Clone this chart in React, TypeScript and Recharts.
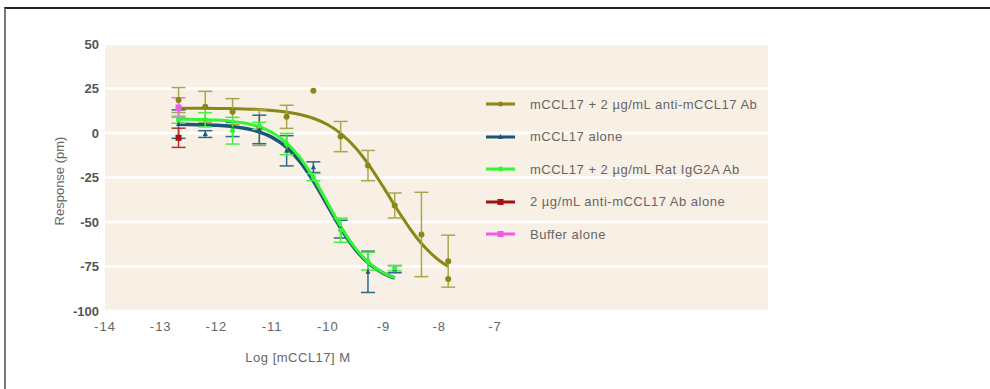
import React from 'react';
import { ComposedChart, Line, Scatter, XAxis, YAxis, CartesianGrid, ErrorBar, Legend } from 'recharts';

const FONT = '"Liberation Sans", Arial, sans-serif';

// log concentrations used in the assay
const logConc = [-12.68, -12.2, -11.71, -11.23, -10.74, -10.26, -9.77, -9.28, -8.8, -8.32, -7.84];

// mCCL17 + 2 µg/mL anti-mCCL17 Ab
const oliveMean = [18.5, 14.7, 12, 3, 9.1, 23.8, -2, -18.3, -40.7, -57, -72];
const oliveErr = [7, 8.7, 7.3, 10, 6.5, 0, 8.5, 8.5, 7, 23.7, 14.6];
const oliveExtraX = [-7.84];
const oliveExtraY = [-82];
// mCCL17 alone
const navyMean = [5, -0.6, 2, 2, -10, -19.2, -54, -78, -76.5];
const navyErr = [8, 1.9, 4, 8, 8.5, 3, 5, 11.6, 2];
// mCCL17 + 2 µg/mL Rat IgG2A Ab
const greenMean = [7.5, 7.4, 1.3, 4, -6.2, -24.8, -54.6, -72, -76];
const greenErr = [2, 4, 7.5, 2, 6, 2, 6.8, 5, 1.5];
// 2 µg/mL anti-mCCL17 Ab alone
const redMean = [-2.7];
const redErr = [5.4];
// Buffer alone
const pinkMean = [14.3];
const pinkErr = [5.5];

// fitted curves
const oliveCurveX = [-12.68, -12.25, -12, -11.75, -11.5, -11.25, -11, -10.75, -10.5, -10.25, -10, -9.75, -9.5, -9.25, -9, -8.75, -8.5, -8.25, -8, -7.84];
const oliveCurveY = [13.96, 13.9, 13.83, 13.72, 13.53, 13.21, 12.69, 11.83, 10.42, 8.16, 4.62, -0.77, -8.43, -18.56, -30.57, -43.23, -54.91, -64.5, -71.62, -74.99];
const fitX = [-12.68, -12.5, -12.25, -12, -11.75, -11.5, -11.25, -11, -10.75, -10.5, -10.25, -10, -9.75, -9.5, -9.25, -9, -8.8];
const navyCurveY = [4.87, 4.79, 4.62, 4.3, 3.72, 2.66, 0.79, -2.46, -7.82, -16.16, -27.55, -41.06, -54.49, -65.64, -73.69, -78.87, -81.49];
const greenCurveY = [7.86, 7.78, 7.6, 7.27, 6.67, 5.58, 3.65, 0.29, -5.24, -13.86, -25.63, -39.58, -53.45, -64.97, -73.29, -78.63, -81.34];

const xTicks = [-14, -13, -12, -11, -10, -9, -8, -7];
const yTicks = [-100, -75, -50, -25, 0, 25, 50];

const seriesNames = [
  'mCCL17 + 2 \u00b5g/mL anti-mCCL17 Ab',
  'mCCL17 alone',
  'mCCL17 + 2 \u00b5g/mL Rat IgG2A Ab',
  '2 \u00b5g/mL anti-mCCL17 Ab alone',
  'Buffer alone',
];
const seriesColors = ['#8a8719', '#1c5676', '#33f533', '#a31212', '#f05ae6'];
const barColors = ['#aaa650', '#2a6a8c', '#44f044', '#b03030', '#f070e8'];
const markerKinds = ['circle', 'triangle', 'circle', 'square', 'square'];

const pts = (xs: number[], ys: number[], es?: number[]) =>
  ys.map((y, i) => ({ x: xs[i], y, err: es ? es[i] : 0 }));

const oliveData = pts(logConc, oliveMean, oliveErr);
const oliveExtra = pts(oliveExtraX, oliveExtraY);
const navyData = pts(logConc, navyMean, navyErr);
const greenData = pts(logConc, greenMean, greenErr);
const redData = pts(logConc, redMean, redErr);
const pinkData = pts(logConc, pinkMean, pinkErr);
const oliveCurve = pts(oliveCurveX, oliveCurveY);
const navyCurve = pts(fitX, navyCurveY);
const greenCurve = pts(fitX, greenCurveY);

function Marker({ kind, cx, cy, color, s }: { kind: string; cx: number; cy: number; color: string; s: number }) {
  if (kind === 'square') return <rect x={cx - s} y={cy - s} width={2 * s} height={2 * s} fill={color} />;
  if (kind === 'triangle')
    return <polygon points={`${cx},${cy - s - 0.5} ${cx - s},${cy + s - 0.5} ${cx + s},${cy + s - 0.5}`} fill={color} />;
  return <circle cx={cx} cy={cy} r={s} fill={color} />;
}

const makeShape = (i: number, s: number) => (props: any) =>
  props.cx == null ? <g /> : <Marker kind={markerKinds[i]} cx={props.cx} cy={props.cy} color={seriesColors[i]} s={s} />;

function LegendContent() {
  return (
    <div style={{ fontFamily: FONT, fontSize: 13, color: '#666', letterSpacing: 0.5 }}>
      {seriesNames.map((n, i) => (
        <div key={n} style={{ height: 32.5, display: 'flex', alignItems: 'center' }}>
          <svg width={44} height={10} style={{ flex: 'none' }}>
            <line x1={0} y1={5} x2={29} y2={5} stroke={seriesColors[i]} strokeWidth={3} />
            <Marker kind={markerKinds[i]} cx={14.5} cy={5} color={seriesColors[i]} s={markerKinds[i] === 'square' ? 3 : 2.5} />
          </svg>
          <span style={{ whiteSpace: 'nowrap' }}>{n}</span>
        </div>
      ))}
    </div>
  );
}

export default function App() {
  return (
    <div style={{ position: 'absolute', left: 0, top: 0, width: 990, height: 389, background: '#fff' }}>
      <div
        style={{
          position: 'absolute',
          left: 4,
          top: 7,
          right: 0,
          bottom: -4,
          borderTop: '2px solid #222',
          borderLeft: '2px solid #777',
        }}
      />
      <div style={{ position: 'absolute', left: 0, top: 0 }}>
        <ComposedChart width={990} height={389} margin={{ top: 44, right: 222, bottom: 48, left: 45 }}>
          <CartesianGrid vertical={false} fill="#f8f0e5" stroke="#ffffff" strokeWidth={2.5} fillOpacity={1} />
          <XAxis
            type="number"
            dataKey="x"
            domain={[-14, -2.1]}
            ticks={xTicks}
            allowDataOverflow
            axisLine={false}
            tickLine={false}
            tickSize={0}
            tickMargin={11}
            height={30}
            tick={{ fill: '#666', fontSize: 13, fontFamily: FONT, letterSpacing: 1 }}
            label={{
              content: () => (
                <text x={298} y={362} textAnchor="middle" fontFamily={FONT} fontSize={13} fill="#666" letterSpacing={0.5}>
                  Log [mCCL17] M
                </text>
              ),
            }}
          />
          <YAxis
            type="number"
            domain={[-100, 50]}
            ticks={yTicks}
            axisLine={false}
            tickLine={false}
            tickSize={0}
            tickMargin={6}
            width={60}
            tick={{ fill: '#555', fontSize: 13, fontWeight: 'bold', fontFamily: FONT }}
            label={{
              content: () => (
                <text
                  x={64}
                  y={181}
                  transform="rotate(-90 64 181)"
                  textAnchor="middle"
                  fontFamily={FONT}
                  fontSize={13}
                  fill="#666"
                >
                  Response (pm)
                </text>
              ),
            }}
          />
          <Legend
            layout="vertical"
            align="center"
            verticalAlign="middle"
            content={<LegendContent />}
            wrapperStyle={{ left: 486, top: 88, width: 300 }}
          />
          <Line data={oliveCurve} dataKey="y" type="monotone" stroke={seriesColors[0]} strokeWidth={3} dot={false} isAnimationActive={false} />
          <Scatter data={oliveData} dataKey="y" shape={makeShape(0, 3)} isAnimationActive={false}>
            <ErrorBar dataKey="err" direction="y" width={7} stroke={barColors[0]} strokeWidth={1.5} />
          </Scatter>
          <Scatter data={oliveExtra} dataKey="y" shape={makeShape(0, 3)} isAnimationActive={false} />
          <Line data={navyCurve} dataKey="y" type="monotone" stroke={seriesColors[1]} strokeWidth={3.5} dot={false} isAnimationActive={false} />
          <Scatter data={navyData} dataKey="y" shape={makeShape(1, 2.5)} isAnimationActive={false}>
            <ErrorBar dataKey="err" direction="y" width={7} stroke={barColors[1]} strokeWidth={1.5} />
          </Scatter>
          <Line data={greenCurve} dataKey="y" type="monotone" stroke={seriesColors[2]} strokeWidth={3} dot={false} isAnimationActive={false} />
          <Scatter data={greenData} dataKey="y" shape={makeShape(2, 2.5)} isAnimationActive={false}>
            <ErrorBar dataKey="err" direction="y" width={7} stroke={barColors[2]} strokeWidth={1.5} />
          </Scatter>
          <Scatter data={pinkData} dataKey="y" shape={makeShape(4, 3)} isAnimationActive={false}>
            <ErrorBar dataKey="err" direction="y" width={7} stroke={barColors[4]} strokeWidth={1.5} />
          </Scatter>
          <Scatter data={redData} dataKey="y" shape={makeShape(3, 3)} isAnimationActive={false}>
            <ErrorBar dataKey="err" direction="y" width={7} stroke={barColors[3]} strokeWidth={1.5} />
          </Scatter>
        </ComposedChart>
      </div>
    </div>
  );
}
